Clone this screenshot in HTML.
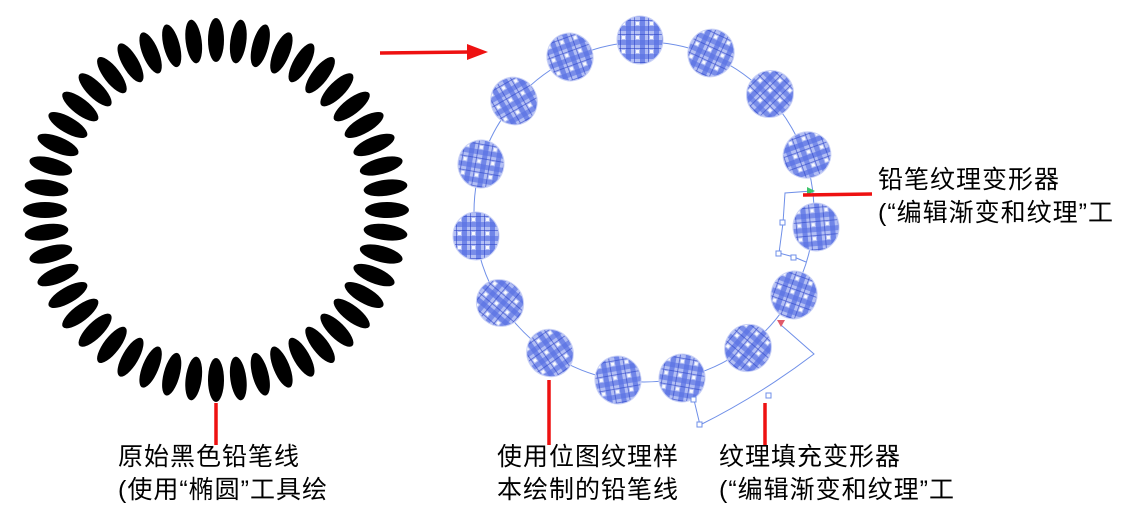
<!DOCTYPE html>
<html><head><meta charset="utf-8"><style>
html,body{margin:0;padding:0;background:#fff;width:1131px;height:510px;overflow:hidden}
svg{position:absolute;left:0;top:0}
.t{position:absolute;font-family:"Liberation Sans","Noto Sans CJK SC",sans-serif;font-size:25px;line-height:33px;color:#000;white-space:nowrap;letter-spacing:1px}
</style></head><body>
<svg width="1131" height="510" viewBox="0 0 1131 510">
<defs>
<pattern id="pl" width="14" height="14" patternUnits="userSpaceOnUse">
<rect width="14" height="14" fill="#b3bff4"/>
<rect x="0" y="0" width="5" height="14" fill="#5a72e4" opacity="0.75"/>
<rect x="0" y="0" width="14" height="5" fill="#5a72e4" opacity="0.65"/>
<rect x="8" y="0" width="1" height="14" fill="#2f46c8" opacity="0.6"/>
<rect x="0" y="8" width="14" height="1" fill="#2f46c8" opacity="0.6"/>
<rect x="10" y="10" width="3" height="3" fill="#ffffff" opacity="0.9"/>
</pattern>
<g id="bl"><ellipse rx="23" ry="24" fill="url(#pl)" stroke="#c9d1f6" stroke-width="1"/></g>
</defs>
<g id="ring" fill="#000"></g>
<circle cx="644" cy="212" r="170" fill="none" stroke="#6f8fe8" stroke-width="1"/>
<g>
<use href="#bl" transform="translate(640,40) rotate(0)"/>
<use href="#bl" transform="translate(711,53) rotate(25)"/>
<use href="#bl" transform="translate(770,94) rotate(45)"/>
<use href="#bl" transform="translate(807,155) rotate(70)"/>
<use href="#bl" transform="translate(816,227) rotate(-5)"/>
<use href="#bl" transform="translate(794,295) rotate(20)"/>
<use href="#bl" transform="translate(748,348) rotate(40)"/>
<use href="#bl" transform="translate(682,378) rotate(10)"/>
<use href="#bl" transform="translate(618,380) rotate(-10)"/>
<use href="#bl" transform="translate(550,353) rotate(-35)"/>
<use href="#bl" transform="translate(500,303) rotate(-50)"/>
<use href="#bl" transform="translate(476,236) rotate(0)"/>
<use href="#bl" transform="translate(481,164) rotate(10)"/>
<use href="#bl" transform="translate(514,101) rotate(-30)"/>
<use href="#bl" transform="translate(570,57) rotate(-20)"/>
</g>
<g fill="none" stroke="#6f8fe8" stroke-width="1">
<path d="M812,191 L785,193 L783,223 L779,253 L794,257 L806,262"/>
<path d="M781,325 L814,354 Q760,395 700,425 L694,400"/>
</g>
<g fill="#fff" stroke="#6f8fe8" stroke-width="1">
<rect x="780" y="220" width="5" height="5"/><rect x="776" y="251" width="5" height="5"/><rect x="791" y="255" width="5" height="5"/>
<rect x="766" y="393" width="5" height="5"/><rect x="691" y="397" width="5" height="5"/><rect x="697" y="422" width="5" height="5"/>
</g>
<polygon points="807,187 815,191 807,195" fill="#3cc46a"/>
<polygon points="777,320 785,320 781,327" fill="#e05a6a"/>
<g stroke="#ee1111" stroke-width="3.5" fill="none">
<line x1="380" y1="53" x2="470" y2="52"/>
<line x1="216" y1="403" x2="216" y2="445"/>
<line x1="549" y1="380" x2="549" y2="445"/>
<line x1="765" y1="403" x2="765" y2="445"/>
<line x1="803" y1="195" x2="872" y2="194"/>
</g>
<polygon points="467,44 488,52 467,60" fill="#ee1111"/>
</svg>
<div class="t" style="left:118px;top:441px">原始黑色铅笔线<br>(使用“椭圆”工具绘</div>
<div class="t" style="left:497px;top:441px">使用位图纹理样<br>本绘制的铅笔线</div>
<div class="t" style="left:719px;top:441px">纹理填充变形器<br>(“编辑渐变和纹理”工</div>
<div class="t" style="left:878px;top:164px">铅笔纹理变形器<br>(“编辑渐变和纹理”工</div>
<script>
var g=document.getElementById('ring'),s='';
for(var i=0;i<48;i++){var a=i*2*Math.PI/48;var x=216+171*Math.sin(a),y=210-170*Math.cos(a);var d=i*360/48;
s+='<ellipse cx="'+x.toFixed(1)+'" cy="'+y.toFixed(1)+'" rx="8" ry="22" transform="rotate('+d+' '+x.toFixed(1)+' '+y.toFixed(1)+')"/>';}
g.innerHTML=s;
</script>
</body></html>
